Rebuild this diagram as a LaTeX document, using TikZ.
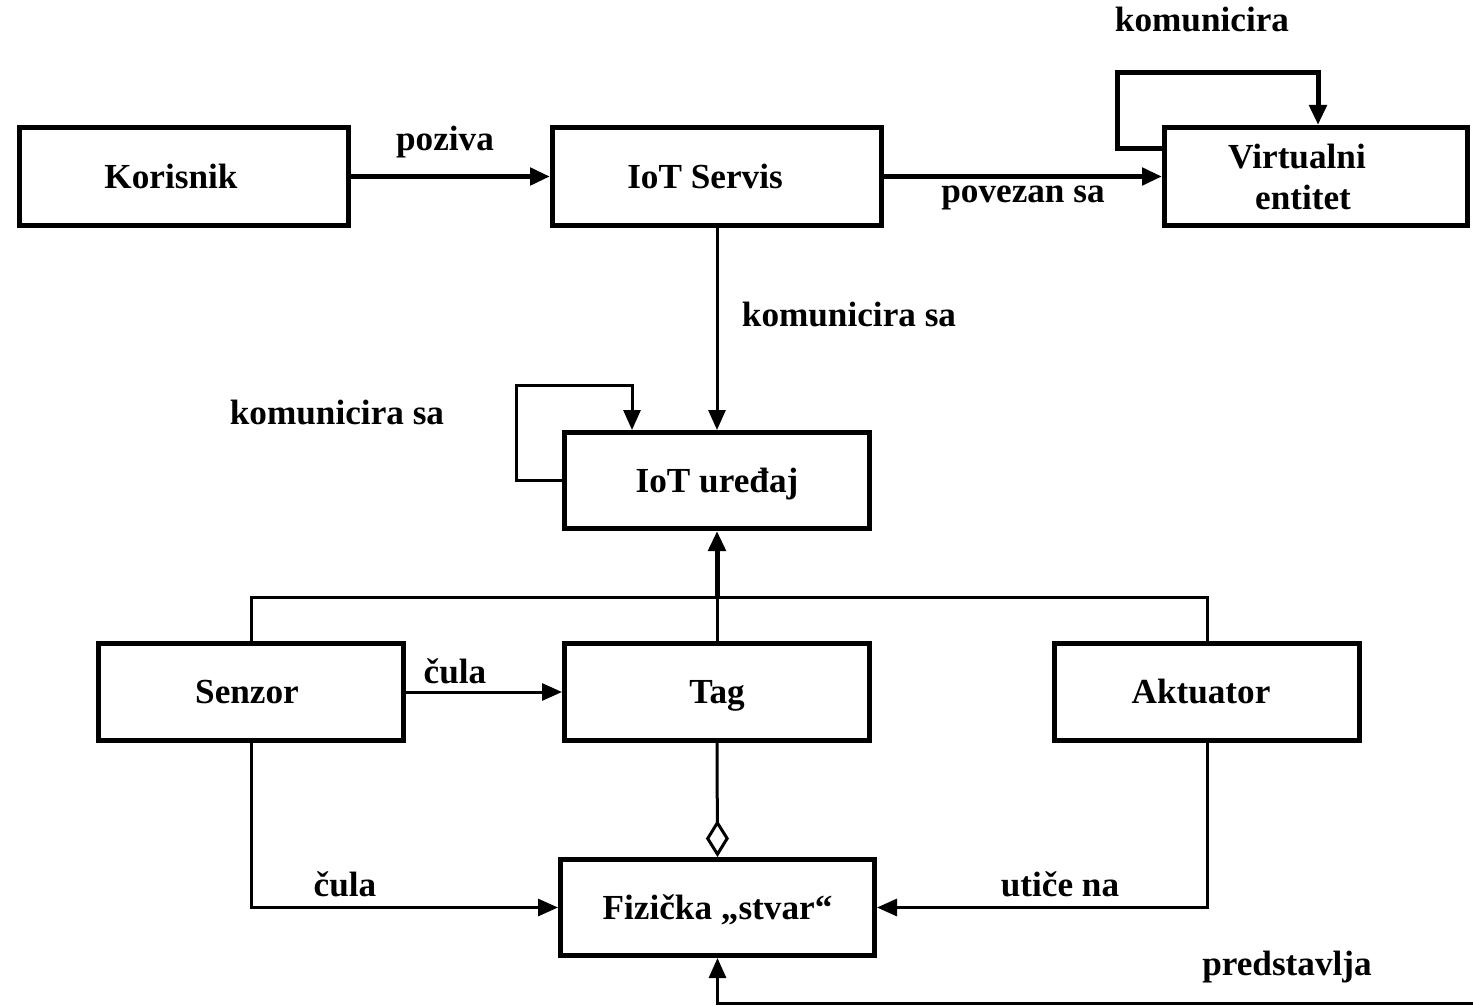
\documentclass[tikz,border=0pt]{standalone}
\usepackage{fontspec}
\setmainfont{Liberation Serif}
\usetikzlibrary{arrows.meta}

\begin{document}
\begin{tikzpicture}[
    x=0.5pt, y=-0.5pt,
    font=\fontsize{17.6}{20.5}\selectfont\bfseries,
    box/.style={draw, line width=2.5pt, rectangle, align=center,
                text height=11.6pt, text depth=0pt},
    wide/.style={minimum width=164.5pt, minimum height=49pt},
    std/.style={minimum width=152.5pt, minimum height=48pt},
    tip/.style={-{Triangle[length=10pt,width=8.5pt]}},
    heavy/.style={line width=2.5pt},
    light/.style={line width=1.5pt},
    lbl/.style={anchor=base, inner sep=0pt},
  ]
  \useasboundingbox[fill=white] (0,0) rectangle (1473,1006);

  % boxes (trailing space nudges the caption a little to the left)
  \node[box, wide] (kor) at (184,176.5) {Korisnik\hspace*{13pt}};
  \node[box, wide] (ser) at (717,176.5) {IoT Servis\hspace*{12pt}};
  \node[draw, line width=2.5pt, align=center, minimum width=151.5pt, minimum height=49pt]
       (vir) at (1316,176.5) {Virtualni\hspace*{19pt}\\entitet\hspace*{13pt}};
  \node[box, std] (ured) at (717,480.5) {IoT uređaj};
  \node[box, std, minimum height=48.5pt] (senz) at (251,692) {Senzor\hspace*{4pt}};
  \node[box, std, minimum height=48.5pt] (tag)  at (717,692) {Tag};
  \node[box, std, minimum height=48.5pt] (akt)  at (1207,692) {Aktuator\hspace*{6pt}};
  \node[box, minimum width=157pt, minimum height=48pt] (fiz) at (717.5,907.5) {Fizička „stvar“};

  % top row
  \draw[heavy, tip] (kor) -- (ser);
  \draw[heavy, tip] (ser) -- (vir);
  \coordinate (vl) at (1117,73);
  \coordinate (vt) at (1318,73);
  \draw[heavy, tip] ([yshift=14pt]vir.west) -| (vl) -- (vt) -- (vt |- vir.north);

  % service to device
  \draw[light, tip] (ser.south) -- (ured.north);
  \coordinate (ul) at (516,385);
  \coordinate (ut) at (632,385);
  \draw[light, tip] (ured.west) -| (ul) -- (ut) -- (ut |- ured.north);

  % sensor / tag / actuator tree
  \coordinate (j) at (717,597);
  \draw[light] (senz.north) |- (j);
  \draw[light] (akt.north) |- (j);
  \draw[light] (tag.north) -- (j);
  \draw[heavy, tip] (j) -- (ured.south);

  \draw[light, tip] (senz.east) -- (tag.west);
  \draw[light, -{Diamond[fill=white,length=18.5pt,width=11.5pt]}] (tag.south) -- (fiz.north);
  \draw[light, tip] (senz.south) |- (fiz.west);
  \draw[light, tip] (akt.south) |- (fiz.east);
  \coordinate (pr) at (1473,1003);
  \draw[light, tip] (pr) -| (fiz.south);

  % labels
  \node[lbl] (l1) at (1202,32) {komunicira};
  \node[lbl] (l2) at (445,150) {poziva};
  \node[lbl] (l3) at (1023,203) {povezan sa};
  \node[lbl] (l4) at (849,326) {komunicira sa};
  \node[lbl] (l5) at (337,424) {komunicira sa};
  \node[lbl] (l6) at (455,683) {čula};
  \node[lbl] (l7) at (345,896) {čula};
  \node[lbl] (l8) at (1060,896) {utiče na};
  \node[lbl] (l9) at (1287,975) {predstavlja};
\end{tikzpicture}
\end{document}
